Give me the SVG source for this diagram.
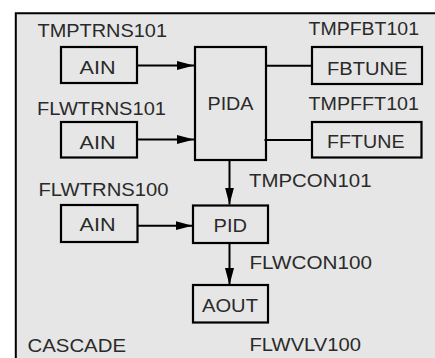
<svg xmlns="http://www.w3.org/2000/svg" width="435" height="358" viewBox="0 0 435 358">
<style>
.t{font-family:"Liberation Sans",Arial,sans-serif;font-size:17.5px;fill:#2a2a2a}
.b{fill:none;stroke:#000;stroke-width:2.2}
.c{stroke:#000;stroke-width:2;fill:none}
</style>
<defs>
<marker id="ah" markerUnits="userSpaceOnUse" markerWidth="18" markerHeight="10" refX="17" refY="4.5" orient="auto">
<path d="M0,0 L17,4.5 L0,9 z" fill="#000"/>
</marker>
</defs>
<rect x="0" y="0" width="435" height="358" fill="#fff"/>
<rect x="15.5" y="13" width="420" height="346" fill="#e6e6e6"/>
<path d="M15.8,358 V13.2 H435" fill="none" stroke="#000" stroke-width="2"/>
<g id="connectors">
<line class="c" x1="138" y1="65.5" x2="194" y2="65.5" marker-end="url(#ah)"/>
<line class="c" x1="138" y1="139.5" x2="194" y2="139.5" marker-end="url(#ah)"/>
<line class="c" x1="138" y1="225.7" x2="192.5" y2="225.7" marker-end="url(#ah)"/>
<line class="c" x1="266" y1="65.7" x2="312" y2="65.7"/>
<line class="c" x1="264.5" y1="140" x2="312" y2="140"/>
<line class="c" x1="229.5" y1="160" x2="229.5" y2="204.5" marker-end="url(#ah)"/>
<line class="c" x1="229.5" y1="243" x2="229.5" y2="285" marker-end="url(#ah)"/>
</g>
<g id="ain1">
<rect class="b" x="61" y="47" width="76" height="36"/>
<text class="t" x="79.5" y="74" textLength="36" lengthAdjust="spacingAndGlyphs">AIN</text>
<text class="t" x="37.5" y="36.7" textLength="129.5" lengthAdjust="spacingAndGlyphs">TMPTRNS101</text>
</g>
<g id="ain2">
<rect class="b" x="61" y="122" width="76" height="35.5"/>
<text class="t" x="79.5" y="148.5" textLength="36" lengthAdjust="spacingAndGlyphs">AIN</text>
<text class="t" x="37" y="115" textLength="129" lengthAdjust="spacingAndGlyphs">FLWTRNS101</text>
</g>
<g id="ain3">
<rect class="b" x="61" y="205" width="76.5" height="37"/>
<text class="t" x="79.5" y="231.3" textLength="36" lengthAdjust="spacingAndGlyphs">AIN</text>
<text class="t" x="38.5" y="196.3" textLength="130" lengthAdjust="spacingAndGlyphs">FLWTRNS100</text>
</g>
<g id="pida">
<rect class="b" x="195" y="47" width="71" height="113"/>
<text class="t" x="207.5" y="110" textLength="46" lengthAdjust="spacingAndGlyphs">PIDA</text>
</g>
<g id="fbtune">
<rect class="b" x="312" y="47" width="110" height="37"/>
<text class="t" x="327" y="75" textLength="80.5" lengthAdjust="spacingAndGlyphs">FBTUNE</text>
<text class="t" x="308.5" y="35" textLength="110.5" lengthAdjust="spacingAndGlyphs">TMPFBT101</text>
</g>
<g id="fftune">
<rect class="b" x="312" y="122" width="109.5" height="35.5"/>
<text class="t" x="327" y="148.3" textLength="77.5" lengthAdjust="spacingAndGlyphs">FFTUNE</text>
<text class="t" x="308.5" y="110" textLength="110.5" lengthAdjust="spacingAndGlyphs">TMPFFT101</text>
</g>
<g id="pid">
<rect class="b" x="193" y="205.5" width="75" height="37.5"/>
<text class="t" x="213.5" y="231.7" textLength="33.5" lengthAdjust="spacingAndGlyphs">PID</text>
<text class="t" x="249" y="186.7" textLength="122.5" lengthAdjust="spacingAndGlyphs">TMPCON101</text>
</g>
<g id="aout">
<rect class="b" x="193" y="285" width="75" height="37.5"/>
<text class="t" x="202" y="311.7" textLength="56" lengthAdjust="spacingAndGlyphs">AOUT</text>
<text class="t" x="249.5" y="268.7" textLength="122.5" lengthAdjust="spacingAndGlyphs">FLWCON100</text>
<text class="t" x="249.5" y="350.7" textLength="111.5" lengthAdjust="spacingAndGlyphs">FLWVLV100</text>
</g>
<g id="cascade">
<text class="t" x="27.5" y="352" textLength="98.5" lengthAdjust="spacingAndGlyphs">CASCADE</text>
</g>
</svg>
